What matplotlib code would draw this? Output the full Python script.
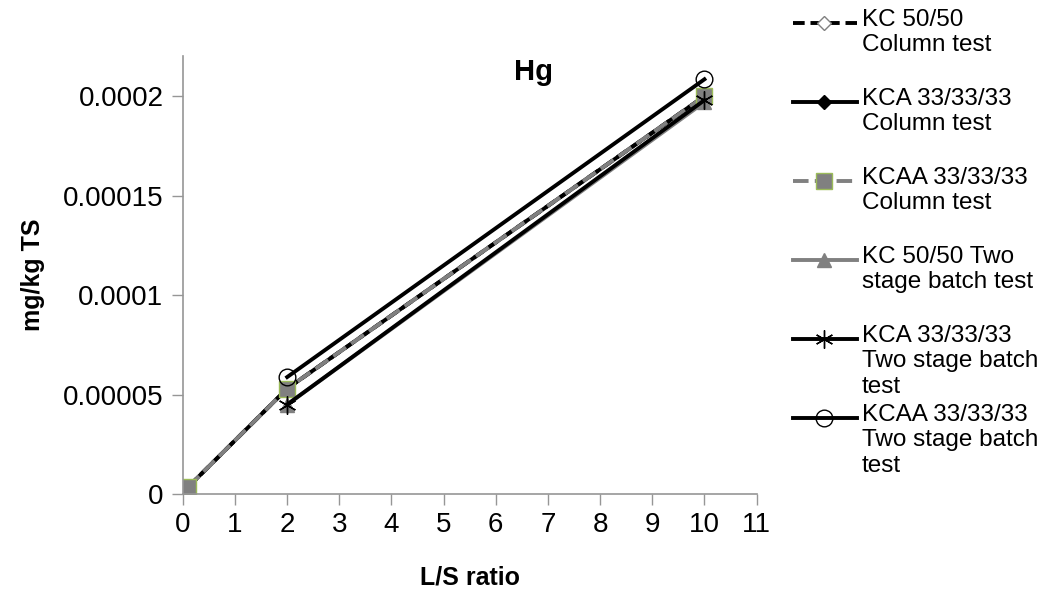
import numpy as np
import matplotlib.pyplot as plt
from matplotlib.ticker import FixedLocator, FixedFormatter

plt.rcParams['font.family'] = ['Liberation Sans', 'DejaVu Sans']

# L/S ratio and leached Hg (mg/kg TS)
ls = [0.1, 2, 10]
kc_col = [3.5e-6, 5.3e-5, 2.0e-4]
kca_col = [3.5e-6, 5.3e-5, 2.0e-4]
kcaa_col = [3.5e-6, 5.3e-5, 2.0e-4]
kc_2s = [np.nan, 4.5e-5, 1.97e-4]
kca_2s = [np.nan, 4.5e-5, 1.98e-4]
kcaa_2s = [np.nan, 5.88e-5, 2.085e-4]

labels = ['KC 50/50\nColumn test',
          'KCA 33/33/33\nColumn test',
          'KCAA 33/33/33\nColumn test',
          'KC 50/50 Two\nstage batch test',
          'KCA 33/33/33\nTwo stage batch\ntest',
          'KCAA 33/33/33\nTwo stage batch\ntest']
series = [kc_col, kca_col, kcaa_col, kc_2s, kca_2s, kcaa_2s]

gray = '#808080'
styles = [
    dict(color='black', ls=(0, (3, 1.5)), lw=2.8, marker='D', ms=7, mfc='white', mec=gray, mew=1),
    dict(color='black', ls='-', lw=2.8, marker='D', ms=7, mfc='black', mec='black'),
    dict(color=gray, ls=(0, (4, 1.6)), lw=2.8, marker='s', ms=12, mfc=gray, mec='#9BBB59', mew=1),
    dict(color=gray, ls='-', lw=2.8, marker='^', ms=10, mfc=gray, mec=gray),
    dict(color='black', ls='-', lw=2.8, marker=(6, 2, 0), ms=13, mfc='black', mec='black', mew=1),
    dict(color='black', ls='-', lw=2.8, marker='o', ms=12, mfc='none', mec='black', mew=1),
]

fig = plt.figure(figsize=(10.45, 5.97), dpi=100)
ax = fig.add_axes([0.175, 0.1725, 0.549, 0.733])

for vals, st in zip(series, styles):
    ax.plot(ls, vals, **st)

ax.set_xlim(0, 11)
ax.set_ylim(0, 0.00022)
ax.xaxis.set_major_locator(FixedLocator(range(12)))
yt = [0, 0.00005, 0.0001, 0.00015, 0.0002]
ax.yaxis.set_major_locator(FixedLocator(yt))
ax.yaxis.set_major_formatter(FixedFormatter(['0', '0.00005', '0.0001', '0.00015', '0.0002']))
for s in ['top', 'right']:
    ax.spines[s].set_visible(False)
for s in ['left', 'bottom']:
    ax.spines[s].set_color('#969696')
    ax.spines[s].set_linewidth(1.2)
ax.tick_params(axis='both', direction='out', length=8, width=1, color='#969696',
               labelsize=20, pad=6)
ax.tick_params(axis='x', pad=5)
ax.set_xlabel('L/S ratio', fontsize=18, fontweight='bold', labelpad=20)
ax.set_ylabel('mg/kg TS', fontsize=18, fontweight='bold', labelpad=13)
fig.text(0.511, 0.88, 'Hg', fontsize=21, fontweight='bold', ha='center', va='center')

# legend drawn on its own axes so the sample line sits beside the first text line
lg = fig.add_axes([0, 0, 1, 1], facecolor='none')
lg.set_xlim(0, 1045)
lg.set_ylim(597, 0)
lg.axis('off')
for i, (lab, st) in enumerate(zip(labels, styles)):
    y = 23 + 79 * i
    line_st = {k: v for k, v in st.items() if k in ('color', 'ls', 'lw')}
    lg.plot([793, 857], [y, y], **line_st)
    m = {k: v for k, v in st.items() if k in ('marker', 'ms', 'mfc', 'mec', 'mew')}
    lg.plot([824], [y], ls='None', **m)
    lg.text(862, y - 14, lab, fontsize=17.5, va='top', ha='left', linespacing=1.2)

fig.savefig('out.png', dpi=100)
